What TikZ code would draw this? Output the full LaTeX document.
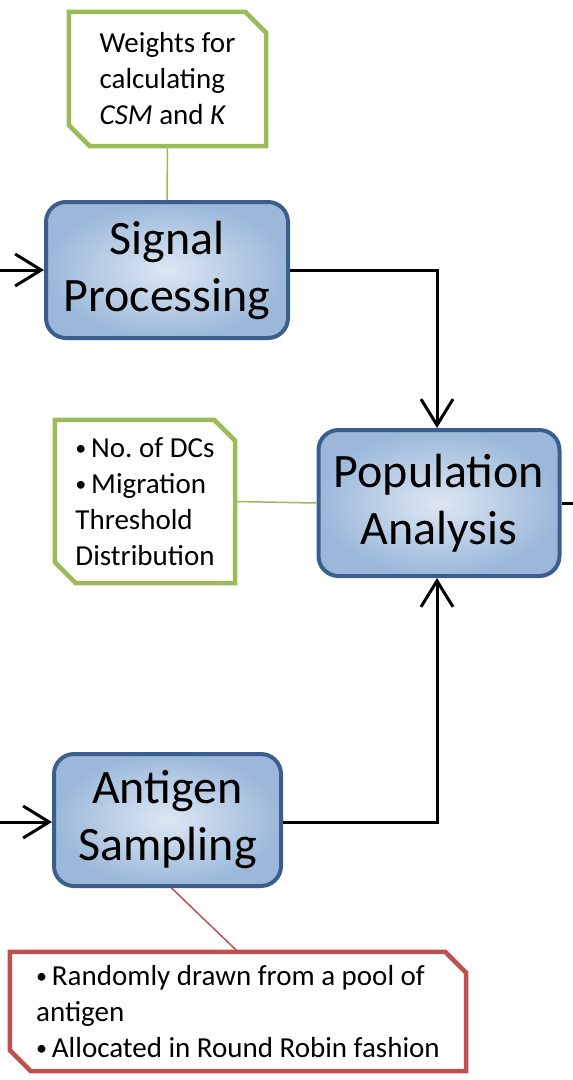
\documentclass[tikz,border=0pt]{standalone}
\usepackage{fontspec}
\setmainfont{Carlito}
\frenchspacing
\usetikzlibrary{arrows.meta,calc}
\definecolor{boxborder}{RGB}{58,95,142}
\definecolor{boxin}{RGB}{222,231,243}
\definecolor{boxout}{RGB}{155,184,218}
\definecolor{notegreen}{RGB}{155,187,89}
\definecolor{notered}{RGB}{192,80,77}
\newcommand\smallbul{\raisebox{1.5pt}{\fontsize{22}{22}\selectfont •}\,}
\newcommand\chamferoutline[3]{%
  \draw[#2, line width=4.5pt, line join=miter]
    (#1.north west) -- ($(#1.north east)+(-#3,0)$) -- ($(#1.north east)+(0,#3)$)
    -- (#1.south east) -- ($(#1.south west)+(#3,0)$) -- ($(#1.south west)+(0,-#3)$) -- cycle;}
\begin{document}
\begin{tikzpicture}[x=1pt,y=-1pt,
  procbox/.style={draw=boxborder, line width=4pt, rounded corners=20pt,
    inner color=boxin, outer color=boxout, align=center, inner sep=0pt,
    font=\fontsize{48}{57}\selectfont},
  notebox/.style={draw=none, align=left, inner sep=0pt,
    font=\fontsize{29}{36}\selectfont},
  arr/.style={line width=3pt, -{Straight Barb[length=26pt,width=32pt,line width=3pt]}},
  plainline/.style={line width=3pt},
  greenlink/.style={notegreen, line width=1.5pt},
  redlink/.style={notered, line width=1.5pt}]
\useasboundingbox (0,0) rectangle (573,1080);

% process boxes
\node[procbox, minimum width=242pt, minimum height=136pt] (sp) at (167,270) {Signal\\Processing};
\node[procbox, minimum width=241pt, minimum height=146pt] (pa) at (439,503) {Population\\Analysis};
\node[procbox, minimum width=227pt, minimum height=132pt] (as) at (167.5,820) {Antigen\\Sampling};

% notes
\node[notebox, minimum width=197pt, minimum height=134pt] (n1) at (167.5,79)
  {Weights for\\calculating\\\textit{CSM} and \textit{K}};
\node[notebox, minimum width=180pt, minimum height=163pt] (n2) at (145,501.5)
  {\smallbul No. of DCs\\\smallbul Migration\\Threshold\\Distribution};
\node[notebox, minimum width=456pt, minimum height=119pt] (n3) at (238,1011.5)
  {\smallbul Randomly drawn from a pool of\\antigen\\\smallbul Allocated in Round Robin fashion};
\chamferoutline{n1}{notegreen}{21}
\chamferoutline{n2}{notegreen}{21}
\chamferoutline{n3}{notered}{21}

% free ends
\coordinate (insp) at (0,270);
\coordinate (inas) at (0,822);
\coordinate (outpa) at (573,503);

% connectors
\draw[arr] (insp) -- (sp.west);
\draw[arr] (inas) -- ($(as.west)+(0,2)$);
\draw[arr] (sp.east) -| ($(pa.north)+(-2,0)$);
\draw[arr] ($(as.east)+(0,2)$) -| ($(pa.south)+(-2,0)$);
\draw[plainline] (pa.east) -- (outpa);
\draw[greenlink] (n1.south) -- (sp.north);
\draw[greenlink] (n2.east) -- (pa.west);
\draw[redlink] ($(as.south)+(4,0)$) -- (n3.north);
\end{tikzpicture}
\end{document}
